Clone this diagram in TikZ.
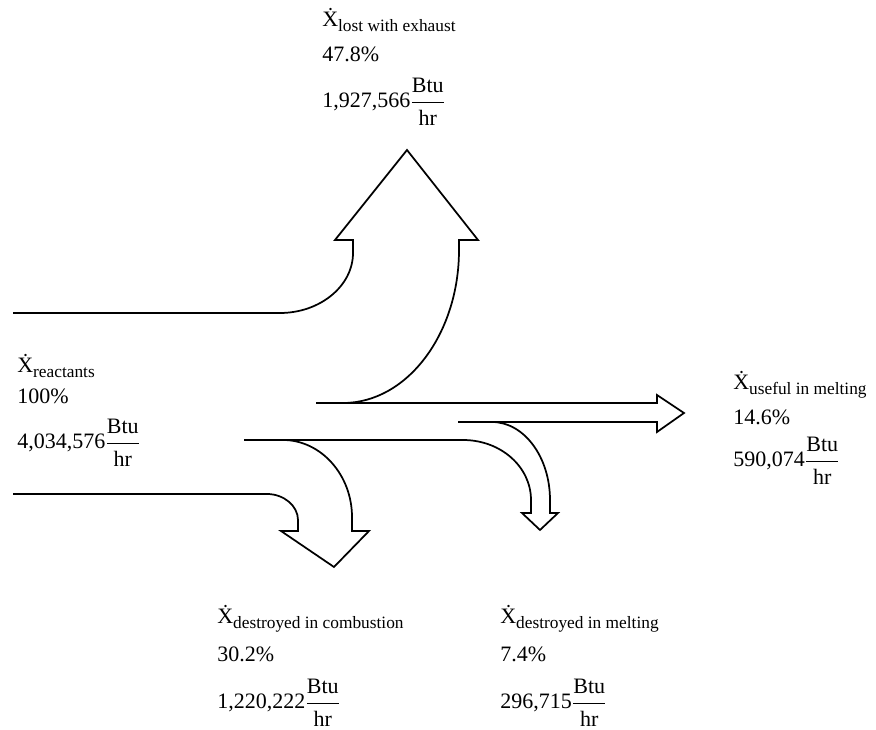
\documentclass[tikz,border=0pt]{standalone}
\usepackage{amsmath}
\usepackage{fontspec}
\setmainfont{Liberation Serif}

\newcommand{\xrate}[1]{\.{X}\raisebox{-0.4ex}{\fontsize{13}{14}\selectfont #1}}
\newcommand{\btuhr}{$\dfrac{\text{Btu}\rule[-3pt]{0pt}{3pt}}{\text{hr}\rule{0pt}{15pt}}$}

\begin{document}
\begin{tikzpicture}[x=0.75pt, y=-0.75pt, every node/.style={font=\fontsize{16.5}{19}\selectfont, inner sep=0pt, anchor=base west},
	flow/.style={line width=1.3pt, line join=miter}]
	\useasboundingbox (0,0) rectangle (876,730);

	% Reactants in, exhaust out
	\draw[flow] (13,313) -- (280,313) .. controls (320,313) and (353,286) .. (353,253) -- (353,240) -- (335,240) -- (407,150)
		-- (478,240) -- (459,240) -- (459,250) .. controls (459,334) and (407,403) .. (343,403);

	% Useful in melting
	\draw[flow] (316,403) -- (657,403) -- (657,395) -- (684,413) -- (657,432) -- (657,422) -- (458,422);

	% Destroyed in melting
	\draw[flow] (492,422) .. controls (524,422) and (550,457) .. (550,500) -- (550,513) -- (558,513) -- (540,530) -- (522,513)
		-- (531,513) -- (531,500) .. controls (531,467) and (501,440) .. (463,440) -- (244,440);

	% Destroyed in combustion
	\draw[flow] (283,440) .. controls (321,440) and (352,475) .. (352,517) -- (352,531) -- (369,531) -- (334,567) -- (281,531)
		-- (298,531) -- (298,520) .. controls (298,506) and (284,494) .. (267,494) -- (13,494);

	% Labels
	\node (exhname) at (322,27) {\xrate{lost with exhaust}};
	\node (exhpct) at (322,62) {47.8\%};
	\node (exhval) at (322,108) {1,927,566\btuhr};

	\node (reaname) at (17,373) {\xrate{reactants}};
	\node (reapct) at (17,404) {100\%};
	\node (reaval) at (17,449) {4,034,576\btuhr};

	\node (usename) at (733,390) {\xrate{useful in melting}};
	\node (usepct) at (733,425) {14.6\%};
	\node (useval) at (733,467) {590,074\btuhr};

	\node (comname) at (217,624) {\xrate{destroyed in combustion}};
	\node (compct) at (217,662) {30.2\%};
	\node (comval) at (217,709) {1,220,222\btuhr};

	\node (melname) at (500,624) {\xrate{destroyed in melting}};
	\node (melpct) at (500,662) {7.4\%};
	\node (melval) at (500,709) {296,715\btuhr};
\end{tikzpicture}
\end{document}
